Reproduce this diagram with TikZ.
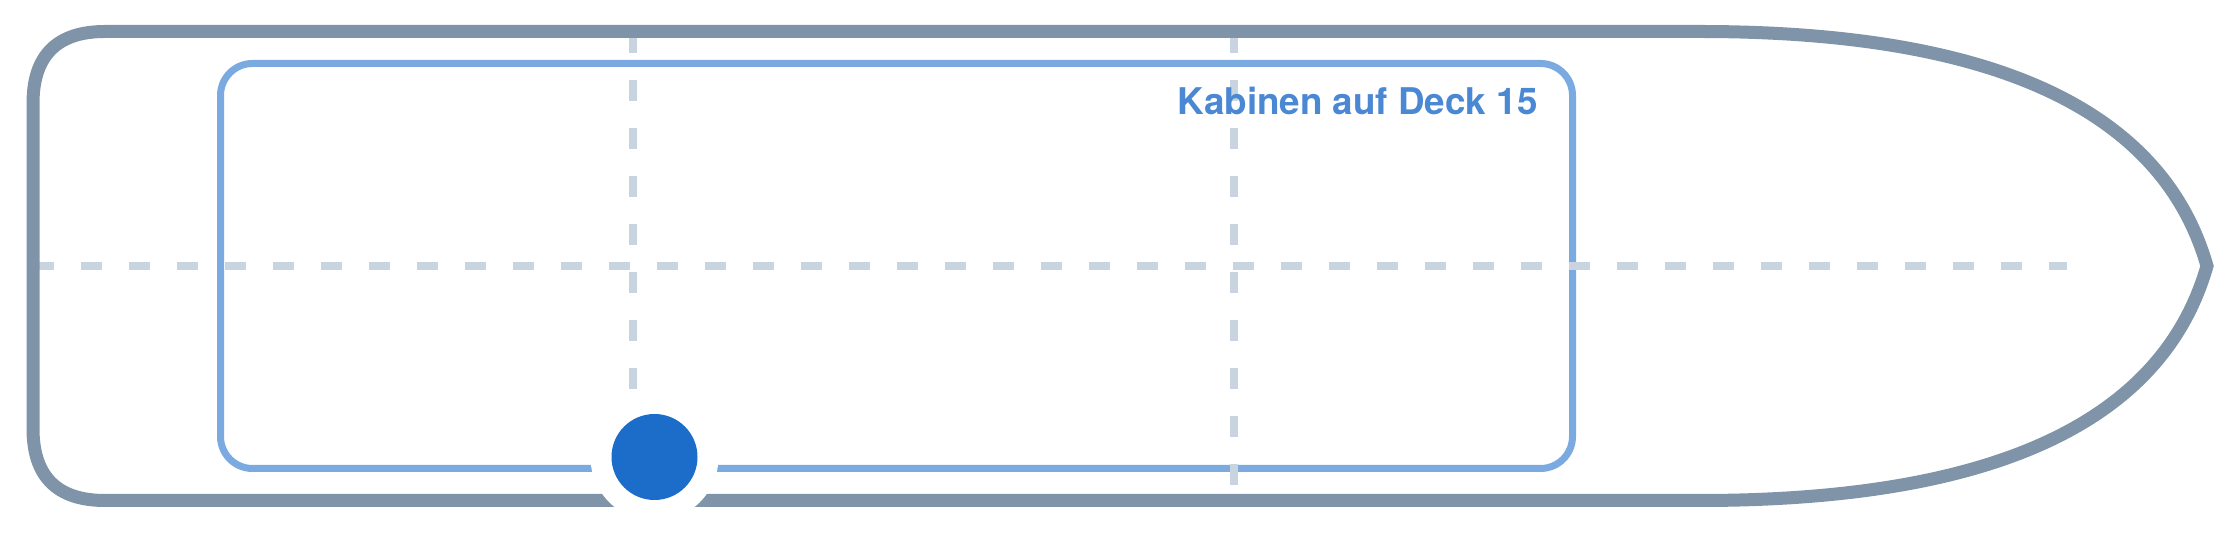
\documentclass[tikz,border=0pt]{standalone}
\usepackage{fontspec}
\setmainfont{TeX Gyre Heros}

\definecolor{hullgrey}{RGB}{127,148,168}
\definecolor{deckblue}{RGB}{122,170,224}
\definecolor{gridgrey}{RGB}{200,212,224}
\definecolor{labelblue}{RGB}{74,136,212}
\definecolor{markblue}{RGB}{28,109,201}

\tikzset{
    hull/.style={draw=hullgrey, line width=6.5pt, line join=miter},
    deck/.style={draw=deckblue, line width=3.5pt, rounded corners=16pt},
    gridline/.style={draw=gridgrey, line width=3.75pt, dash pattern=on 10.5pt off 13.5pt},
}

\begin{document}
\begin{tikzpicture}[x=0.5pt, y=-0.5pt]
        \useasboundingbox (0,0) rectangle (2240,533);
        % deck 15 outline
        \draw[deck] (220.5,63.5) rectangle (1572.5,468.5);
        % grid lines
        \draw[gridline] (33,266) -- (2067,266);
        \draw[gridline] (633,32) -- (633,500);
        \draw[gridline] (1234,32) -- (1234,500);
        % hull with bow
        \draw[hull] (105,31.5) -- (1700,31.5)
            .. controls (1993.3,31.5) and (2162.3,109.7) .. (2207,266)
            .. controls (2162.3,422.3) and (1993.3,500.5) .. (1700,500.5)
            -- (105,500.5)
            .. controls (57,500.5) and (33,476.5) .. (33,428.5)
            -- (33,103.5)
            .. controls (33,55.5) and (57,31.5) .. cycle;
        \node[anchor=base east, inner sep=0pt, text=labelblue,
            font=\bfseries\fontsize{18.4pt}{20pt}\selectfont]
            (cabins) at (1538,115) {Kabinen auf Deck 15};
        % position marker
        \node[circle, fill=white, inner sep=0pt, minimum size=64pt] (halo) at (654.5,457) {};
        \node[circle, fill=markblue, inner sep=0pt, minimum size=43pt] (berth) at (halo) {};
\end{tikzpicture}
\end{document}
